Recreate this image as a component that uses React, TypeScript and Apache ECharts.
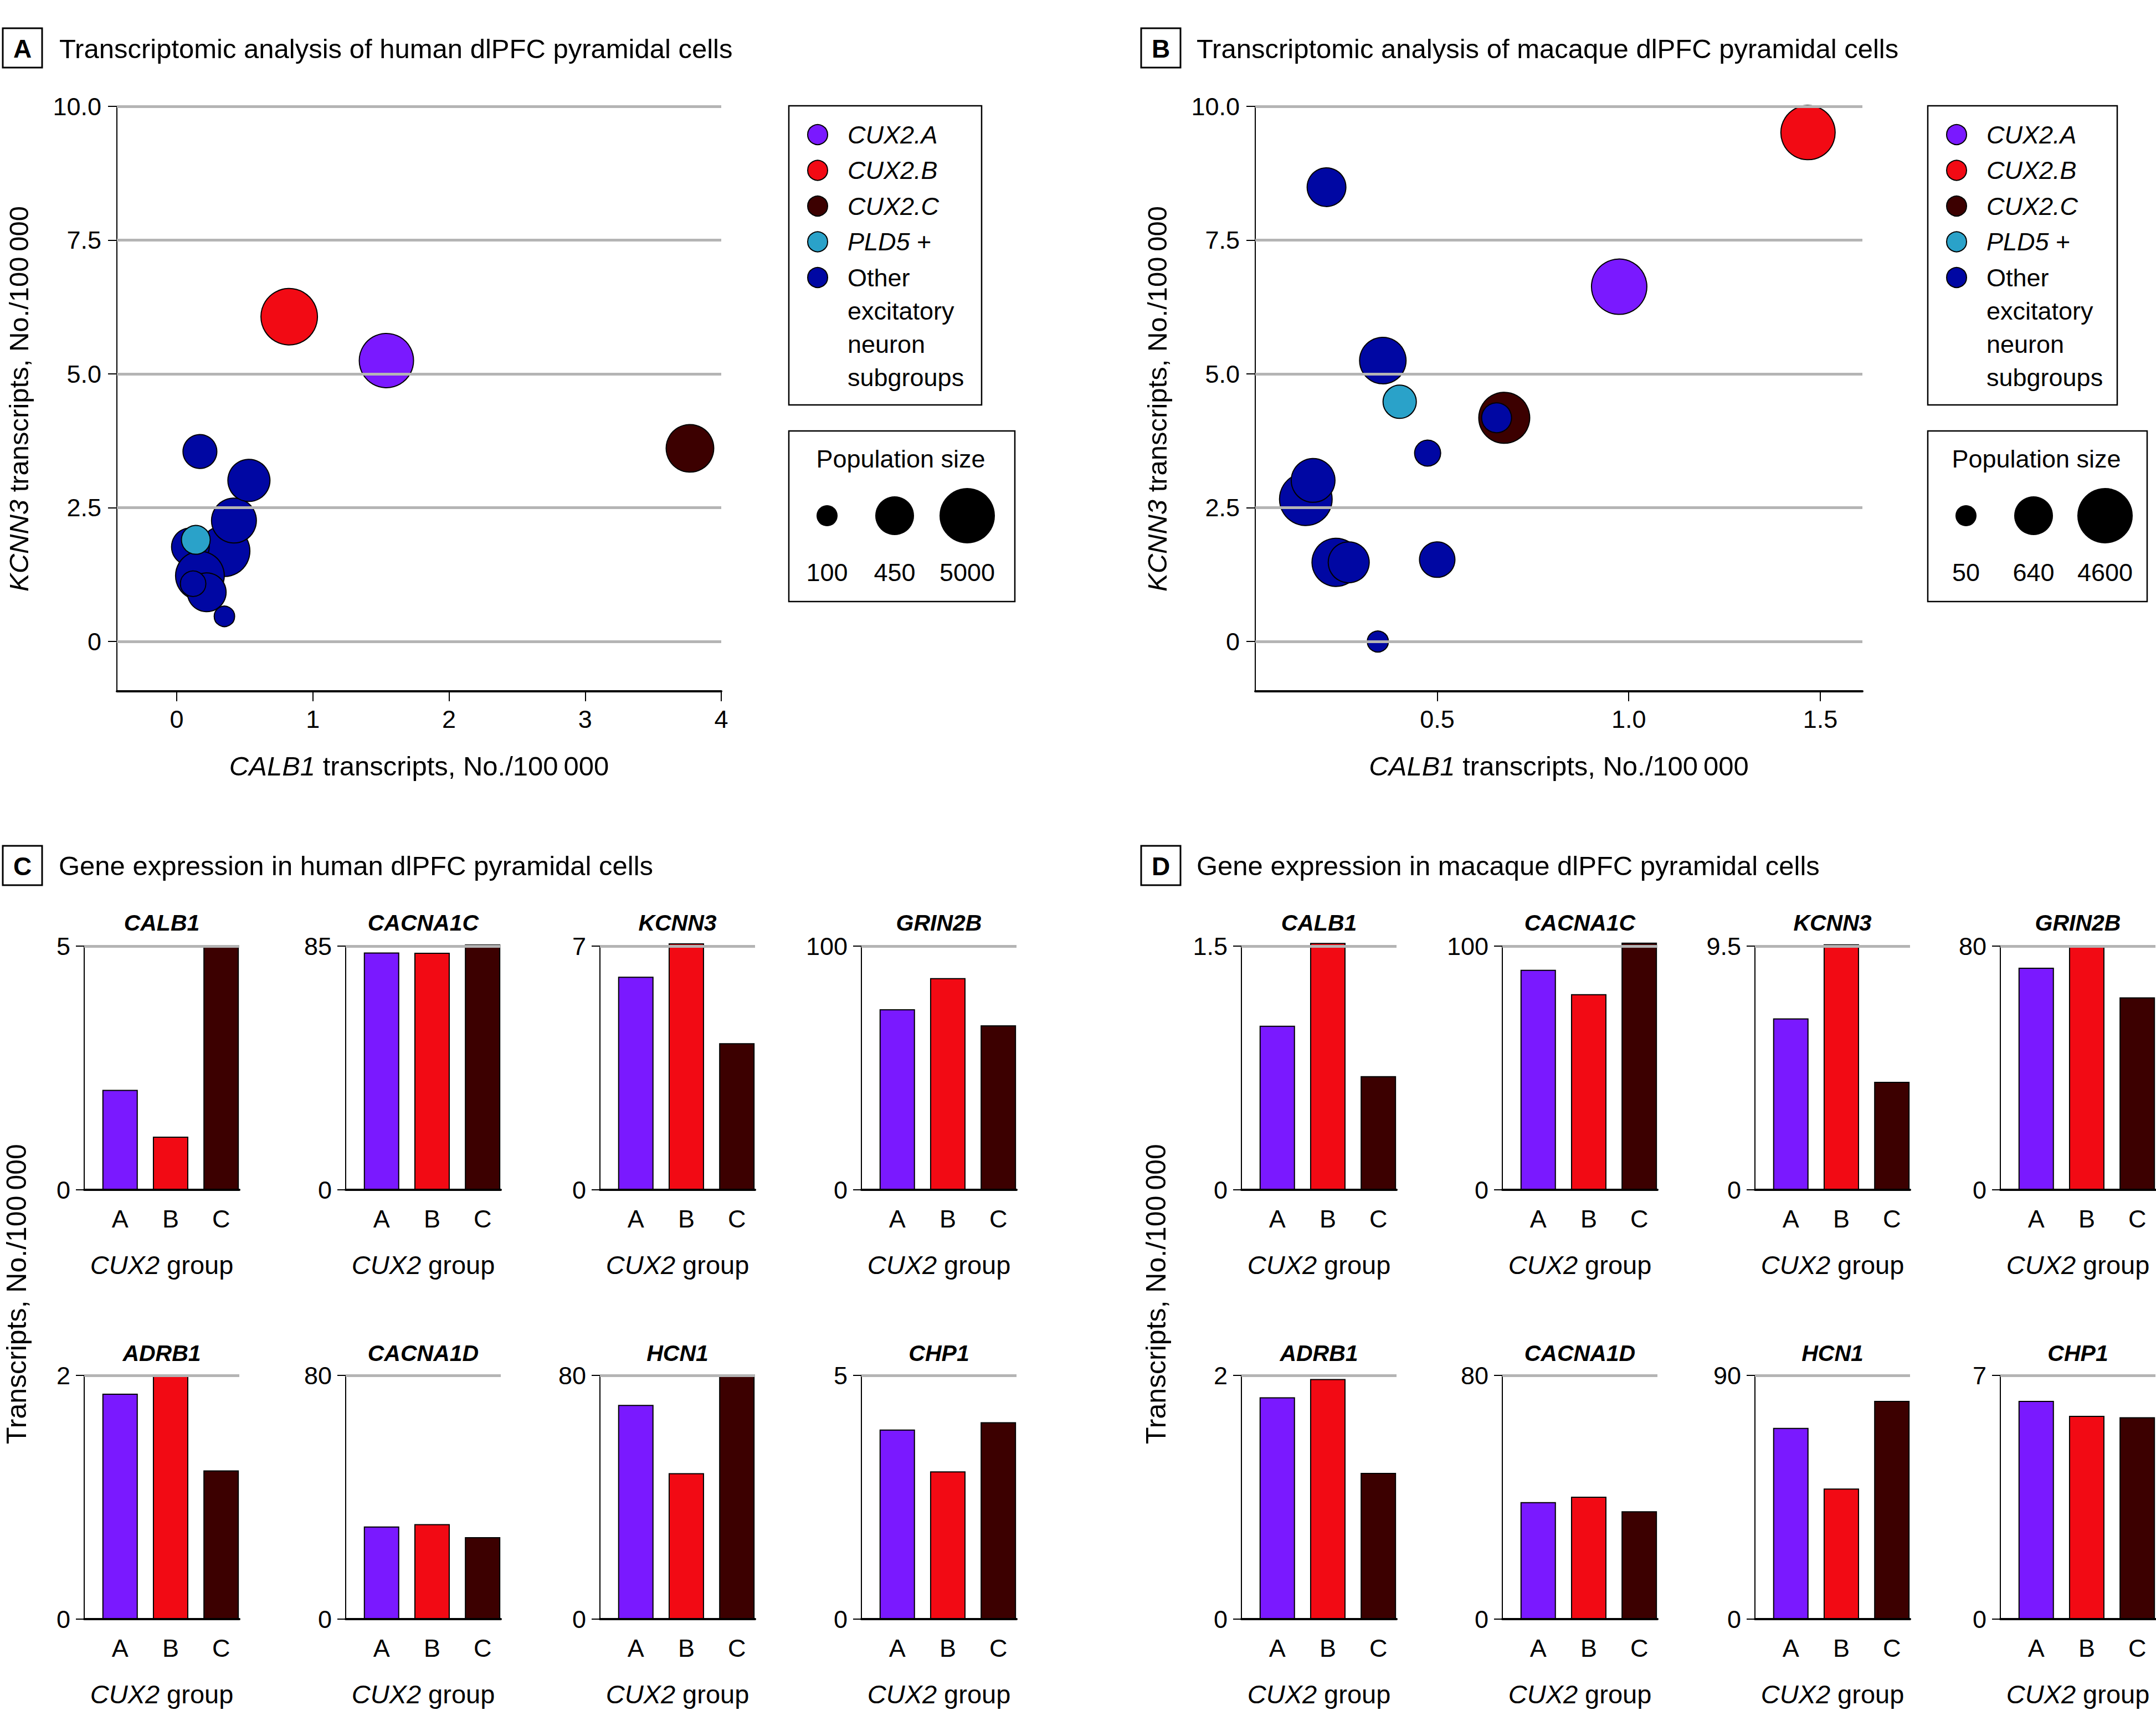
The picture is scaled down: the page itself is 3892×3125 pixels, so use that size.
import React, { useEffect, useRef } from 'react';
import * as echarts from 'echarts';

// ---------- DATA ----------
const GROUP_NAMES = ['CUX2.A', 'CUX2.B', 'CUX2.C', 'PLD5 +', 'Other excitatory neuron subgroups'];
const GROUP_LABELS = ['{i|CUX2.A}', '{i|CUX2.B}', '{i|CUX2.C}', '{i|PLD5} +', 'Other\nexcitatory\nneuron\nsubgroups'];
const GROUP_COLORS = ['#7a19ff', '#f20a14', '#3c0000', '#2aa2c9', '#0007a3'];

// scatter points: [CALB1 transcripts, KCNN3 transcripts, population size]
const humanCUX2A = [[1.54, 5.25, 4260]];
const humanCUX2B = [[0.826, 6.07, 5870]];
const humanCUX2C = [[3.77, 3.61, 1620]];
const humanPLD5 = [[0.14, 1.9, 193]];
const humanOther = [
  [0.35, 1.69, 2630],
  [0.1, 1.77, 410],
  [0.42, 2.26, 1090],
  [0.17, 1.23, 1910],
  [0.22, 0.92, 450],
  [0.12, 1.08, 146],
  [0.17, 3.55, 297],
  [0.53, 3.01, 730],
  [0.35, 0.47, 95],
];

const macaqueCUX2A = [[0.975, 6.63, 4600]];
const macaqueCUX2B = [[1.468, 9.51, 4040]];
const macaqueCUX2C = [[0.675, 4.18, 2720]];
const macaquePLD5 = [[0.402, 4.48, 290]];
const macaqueOther = [
  [0.211, 8.49, 640],
  [0.358, 5.25, 1600],
  [0.475, 3.52, 103],
  [0.157, 2.66, 3320],
  [0.176, 3.01, 1160],
  [0.236, 1.48, 1960],
  [0.269, 1.48, 833],
  [0.5, 1.53, 397],
  [0.345, 0.0, 50],
  [0.655, 4.18, 179],
];

const humanSizeLegend = [100, 450, 5000];
const macaqueSizeLegend = [50, 640, 4600];

const scatterYTicks = [0, 2.5, 5, 7.5, 10];
const humanXTicks = [0, 1, 2, 3, 4];
const macaqueXTicks = [0.5, 1, 1.5];

// bar charts: values for CUX2 groups A, B, C
const CUX2_GROUPS = ['A', 'B', 'C'];
const GENES = ['CALB1', 'CACNA1C', 'KCNN3', 'GRIN2B', 'ADRB1', 'CACNA1D', 'HCN1', 'CHP1'];

const humanCALB1 = [2.05, 1.09, 5.0];
const humanCACNA1C = [82.8, 82.7, 85.6];
const humanKCNN3 = [6.12, 7.08, 4.21];
const humanGRIN2B = [74.1, 86.9, 67.5];
const humanADRB1 = [1.85, 2.0, 1.22];
const humanCACNA1D = [30.4, 31.2, 26.9];
const humanHCN1 = [70.3, 47.9, 80.2];
const humanCHP1 = [3.89, 3.03, 4.04];
const humanAxisMax = [5, 85, 7, 100, 2, 80, 80, 5];

const macaqueCALB1 = [1.01, 1.52, 0.7];
const macaqueCACNA1C = [90.3, 80.3, 101.4];
const macaqueKCNN3 = [6.68, 9.57, 4.21];
const macaqueGRIN2B = [72.9, 80.0, 63.2];
const macaqueADRB1 = [1.82, 1.97, 1.2];
const macaqueCACNA1D = [38.4, 40.2, 35.4];
const macaqueHCN1 = [70.6, 48.2, 80.6];
const macaqueCHP1 = [6.27, 5.84, 5.8];
const macaqueAxisMax = [1.5, 100, 9.5, 80, 2, 80, 90, 7];

// ---------- STYLE / LAYOUT ----------
const FONT = '"Liberation Sans", Arial, Helvetica, sans-serif';
const GRID_GRAY = '#b4b4b4';
const SIZE_RADII = [19, 35, 50];

function sizeFromPop(pop: number, legendPops: number[]) {
  const lp = Math.log(pop);
  const i = lp <= Math.log(legendPops[1]) ? 0 : 1;
  const p0 = Math.log(legendPops[i]);
  const p1 = Math.log(legendPops[i + 1]);
  const t = (lp - p0) / (p1 - p0);
  const r = SIZE_RADII[i] + t * (SIZE_RADII[i + 1] - SIZE_RADII[i]);
  return 2 * r;
}

const TICK_FS = 45;

function buildOption() {
  const grid: any[] = [];
  const xAxis: any[] = [];
  const yAxis: any[] = [];
  const series: any[] = [];
  const graphic: any[] = [];

  const italicRich = (fs: number) => ({ i: { fontStyle: 'italic', fontSize: fs, fontFamily: FONT, color: '#000' } });

  // ---- scatter panels ----
  const scatterPanels = [
    {
      left: 211, width: 1091, xmin: -0.44, xmax: 4, xticks: humanXTicks, xfmt: (v: number) => String(v),
      groups: [humanCUX2A, humanCUX2B, humanCUX2C, humanPLD5, humanOther], legendPops: humanSizeLegend,
      legendBox: [1424, 191, 348, 540], sizeBox: [1424, 778, 408, 308], sizeX: [1493, 1615, 1746],
    },
    {
      left: 2266, width: 1096, xmin: 0.025, xmax: 1.61, xticks: macaqueXTicks, xfmt: (v: number) => v.toFixed(1),
      groups: [macaqueCUX2A, macaqueCUX2B, macaqueCUX2C, macaquePLD5, macaqueOther], legendPops: macaqueSizeLegend,
      legendBox: [3480, 191, 342, 540], sizeBox: [3480, 778, 396, 308], sizeX: [3549, 3671, 3800],
    },
  ];

  scatterPanels.forEach((p) => {
    const gi = grid.length;
    grid.push({ left: p.left, top: 192, width: p.width, height: 1056, containLabel: false });
    xAxis.push({
      gridIndex: gi, type: 'value', min: p.xmin, max: p.xmax,
      axisLine: { onZero: false, lineStyle: { color: '#000', width: 4 } },
      axisTick: { customValues: p.xticks, length: 18, lineStyle: { color: '#000', width: 2 } },
      axisLabel: { customValues: p.xticks, formatter: p.xfmt, fontSize: TICK_FS, fontFamily: FONT, color: '#000', margin: 28 },
      splitLine: { show: false },
      name: '{i|CALB1} transcripts, No./100\u2009000', nameLocation: 'middle', nameGap: 110,
      nameTextStyle: { fontSize: 49, fontFamily: FONT, color: '#000', rich: italicRich(49) },
    });
    yAxis.push({
      gridIndex: gi, type: 'value', min: -0.93, max: 10,
      axisLine: { onZero: false, lineStyle: { color: '#000', width: 2 } },
      axisTick: { customValues: scatterYTicks, length: 16, lineStyle: { color: '#000', width: 2 } },
      axisLabel: { customValues: scatterYTicks, formatter: (v: number) => (v === 0 ? '0' : v.toFixed(1)), fontSize: TICK_FS, fontFamily: FONT, color: '#000', margin: 28 },
      splitLine: { show: false },
      name: '{i|KCNN3} transcripts, No./100\u2009000', nameLocation: 'middle', nameGap: 153, nameRotate: 90,
      nameTextStyle: { fontSize: 49, fontFamily: FONT, color: '#000', rich: italicRich(49) },
    });
    series.push({
      type: 'line', xAxisIndex: gi, yAxisIndex: gi, data: [], silent: true, z: 1,
      markLine: {
        silent: true, symbol: 'none', label: { show: false },
        lineStyle: { color: GRID_GRAY, width: 5, type: 'solid' },
        data: scatterYTicks.map((v) => ({ yAxis: v })),
      },
    });
    // draw order: A, B, C, Other, PLD5
    [0, 1, 2, 4, 3].forEach((g) => {
      series.push({
        type: 'scatter', name: GROUP_NAMES[g], xAxisIndex: gi, yAxisIndex: gi, z: 3,
        data: p.groups[g],
        symbolSize: (val: number[]) => sizeFromPop(val[2], p.legendPops),
        itemStyle: { color: GROUP_COLORS[g], borderColor: '#000', borderWidth: 2, opacity: 1 },
      });
    });

    // legend box
    const [lx, ly, lw, lh] = p.legendBox;
    graphic.push({ type: 'rect', shape: { x: lx, y: ly, width: lw, height: lh }, style: { fill: 'none', stroke: '#000', lineWidth: 2.5 } });
    GROUP_LABELS.forEach((lab, g) => {
      const cy = ly + 52 + g * 64.5;
      graphic.push({ type: 'circle', shape: { cx: lx + 52, cy, r: 18 }, style: { fill: GROUP_COLORS[g], stroke: '#000', lineWidth: 2 } });
      graphic.push({
        type: 'text', x: lx + 106, y: cy - 30,
        style: { text: lab, fontSize: 45, fontFamily: FONT, fill: '#000', lineHeight: 60, align: 'left', verticalAlign: 'top', rich: { i: { fontStyle: 'italic', fontSize: 45, fontFamily: FONT, fill: '#000', lineHeight: 60 } } },
      });
    });
    // size legend box
    const [sx, sy, sw, sh] = p.sizeBox;
    graphic.push({ type: 'rect', shape: { x: sx, y: sy, width: sw, height: sh }, style: { fill: 'none', stroke: '#000', lineWidth: 2.5 } });
    graphic.push({ type: 'text', x: sx + sw / 2 - 2, y: sy + 50, style: { text: 'Population size', fontSize: 45, fontFamily: FONT, fill: '#000', align: 'center', verticalAlign: 'middle' } });
    p.legendPops.forEach((pop, j) => {
      graphic.push({ type: 'circle', shape: { cx: p.sizeX[j], cy: sy + 153, r: sizeFromPop(pop, p.legendPops) / 2 }, style: { fill: '#000' } });
      graphic.push({ type: 'text', x: p.sizeX[j], y: sy + 255, style: { text: String(pop), fontSize: 45, fontFamily: FONT, fill: '#000', align: 'center', verticalAlign: 'middle' } });
    });
  });

  // ---- bar panels ----
  const barPanels = [
    {
      lefts: [152, 624, 1083, 1555],
      values: [humanCALB1, humanCACNA1C, humanKCNN3, humanGRIN2B, humanADRB1, humanCACNA1D, humanHCN1, humanCHP1],
      maxes: humanAxisMax, ytitleX: 30,
    },
    {
      lefts: [2241, 2712, 3168, 3611],
      values: [macaqueCALB1, macaqueCACNA1C, macaqueKCNN3, macaqueGRIN2B, macaqueADRB1, macaqueCACNA1D, macaqueHCN1, macaqueCHP1],
      maxes: macaqueAxisMax, ytitleX: 2087,
    },
  ];
  const rowTops = [1708, 2483];
  const rowTitleY = [1666, 2443];
  const BAR_W = 280;
  const BAR_H = 440;

  barPanels.forEach((bp) => {
    GENES.forEach((gene, idx) => {
      const row = idx < 4 ? 0 : 1;
      const col = idx % 4;
      const gi = grid.length;
      const left = bp.lefts[col];
      const top = rowTops[row];
      const mx = bp.maxes[idx];
      grid.push({ left, top, width: BAR_W, height: BAR_H, containLabel: false });
      xAxis.push({
        gridIndex: gi, type: 'value', min: 0.29, max: 3.36,
        axisLine: { onZero: false, lineStyle: { color: '#000', width: 4 } },
        axisTick: { show: false },
        axisLabel: { customValues: [1, 2, 3], formatter: (v: number) => CUX2_GROUPS[Math.round(v) - 1], fontSize: TICK_FS, fontFamily: FONT, color: '#000', margin: 30 },
        splitLine: { show: false },
        name: '{i|CUX2} group', nameLocation: 'middle', nameGap: 112,
        nameTextStyle: { fontSize: 47, fontFamily: FONT, color: '#000', rich: italicRich(47) },
      });
      yAxis.push({
        gridIndex: gi, type: 'value', min: 0, max: mx, interval: mx,
        axisLine: { onZero: false, lineStyle: { color: '#000', width: 2 } },
        axisTick: { length: 15, lineStyle: { color: '#000', width: 2 } },
        axisLabel: { formatter: (v: number) => String(v), fontSize: TICK_FS, fontFamily: FONT, color: '#000', margin: 25 },
        splitLine: { show: false },
      });
      series.push({
        type: 'line', xAxisIndex: gi, yAxisIndex: gi, data: [], silent: true, z: 1,
        markLine: {
          silent: true, symbol: 'none', label: { show: false },
          lineStyle: { color: GRID_GRAY, width: 5, type: 'solid' },
          data: [{ yAxis: mx }],
        },
      });
      series.push({
        type: 'bar', xAxisIndex: gi, yAxisIndex: gi, barWidth: 64, clip: false, z: 2,
        data: bp.values[idx].map((v, j) => ({ value: [j + 1, v], itemStyle: { color: GROUP_COLORS[j] } })),
        itemStyle: { borderColor: '#000', borderWidth: 2 },
      });
      graphic.push({
        type: 'text', x: left + BAR_W / 2, y: rowTitleY[row],
        style: { text: gene, fontSize: 41, fontFamily: FONT, fontWeight: 'bold', fontStyle: 'italic', fill: '#000', align: 'center', verticalAlign: 'middle' },
      });
    });
    graphic.push({
      type: 'text', x: bp.ytitleX, y: 2336, rotation: Math.PI / 2,
      style: { text: 'Transcripts, No./100\u2009000', fontSize: 50, fontFamily: FONT, fill: '#000', align: 'center', verticalAlign: 'middle' },
    });
  });

  // ---- panel headers ----
  const headers = [
    { letter: 'A', box: [5, 51], textX: 107, y: 88, text: 'Transcriptomic analysis of human dlPFC pyramidal cells' },
    { letter: 'B', box: [2060, 51], textX: 2160, y: 88, text: 'Transcriptomic analysis of macaque dlPFC pyramidal cells' },
    { letter: 'C', box: [5, 1527], textX: 106, y: 1563, text: 'Gene expression in human dlPFC pyramidal cells' },
    { letter: 'D', box: [2060, 1527], textX: 2160, y: 1563, text: 'Gene expression in macaque dlPFC pyramidal cells' },
  ];
  headers.forEach((h) => {
    graphic.push({ type: 'rect', shape: { x: h.box[0], y: h.box[1], width: 71, height: 71 }, style: { fill: '#fff', stroke: '#000', lineWidth: 3 } });
    graphic.push({ type: 'text', x: h.box[0] + 35.5, y: h.box[1] + 37, style: { text: h.letter, fontSize: 46, fontWeight: 'bold', fontFamily: FONT, fill: '#000', align: 'center', verticalAlign: 'middle' } });
    graphic.push({ type: 'text', x: h.textX, y: h.y, style: { text: h.text, fontSize: 49, fontFamily: FONT, fill: '#000', align: 'left', verticalAlign: 'middle' } });
  });

  return {
    animation: false,
    backgroundColor: '#ffffff',
    textStyle: { fontFamily: FONT },
    grid, xAxis, yAxis, series, graphic,
  };
}

export default function App() {
  const ref = useRef<HTMLDivElement>(null);
  useEffect(() => {
    document.body.style.margin = '0';
    const chart = echarts.init(ref.current!, null, { renderer: 'svg' });
    chart.setOption(buildOption());
    return () => chart.dispose();
  }, []);
  return <div ref={ref} style={{ position: 'absolute', left: 0, top: 0, width: '3892px', height: '3125px' }} />;
}
